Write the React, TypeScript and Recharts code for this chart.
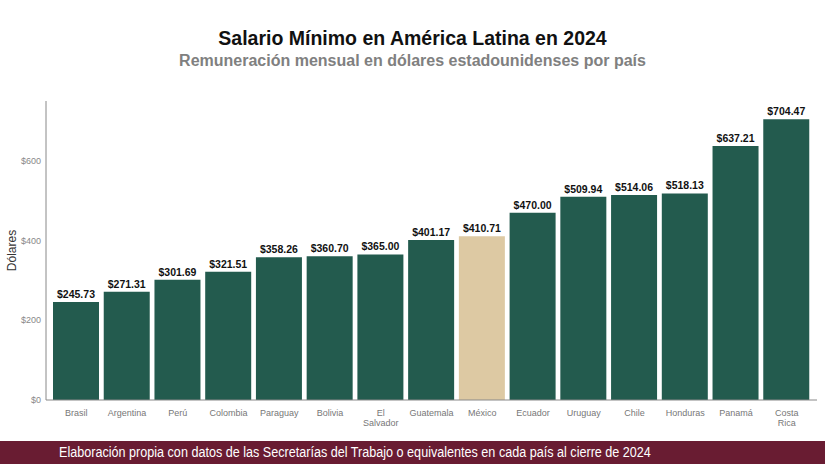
import React from 'react';
import { BarChart, Bar, XAxis, YAxis, Cell, LabelList } from 'recharts';

const countries = ['Brasil', 'Argentina', 'Perú', 'Colombia', 'Paraguay', 'Bolivia', 'El Salvador', 'Guatemala', 'México', 'Ecuador', 'Uruguay', 'Chile', 'Honduras', 'Panamá', 'Costa Rica'];
const salaries = [245.73, 271.31, 301.69, 321.51, 358.26, 360.7, 365.0, 401.17, 410.71, 470.0, 509.94, 514.06, 518.13, 637.21, 704.47];
const yTicks = [0, 200, 400, 600];
const highlight = 'México';

const data = countries.map((c, i) => ({ country: c, value: salaries[i] }));

const GREEN = '#235b4e';
const GOLD = '#ddc9a3';
const FONT = '"Liberation Sans", Arial, sans-serif';

const XTick = (props: any) => {
  const { x, y, payload } = props;
  const words = String(payload.value).split(' ');
  const lines = words.length > 1 ? words : [payload.value];
  return (
    <g transform={`translate(${x},${y})`}>
      <text textAnchor="middle" fill="#777" fontSize={9} fontFamily={FONT}>
        {lines.map((l: string, i: number) => (
          <tspan key={i} x={0} dy={i === 0 ? 8 : 10}>{l}</tspan>
        ))}
      </text>
    </g>
  );
};

export default function App() {
  return (
    <div style={{ position: 'absolute', left: 0, top: 0, width: 825, height: 464, background: '#fff', overflow: 'hidden', fontFamily: FONT }}>
      <div style={{ position: 'absolute', left: 0, width: 825, top: 27, textAlign: 'center', fontSize: 19.5, fontWeight: 'bold', color: '#111' }}>
        Salario Mínimo en América Latina en 2024
      </div>
      <div style={{ position: 'absolute', left: 0, width: 825, top: 52, textAlign: 'center', fontSize: 16, fontWeight: 'bold', color: '#808080' }}>
        Remuneración mensual en dólares estadounidenses por país
      </div>
      <div style={{ position: 'absolute', left: 0, top: 0 }}>
        <BarChart width={825} height={464} data={data} margin={{ top: 101, right: 8, bottom: 24, left: 0 }}>
          <XAxis
            dataKey="country"
            interval={0}
            tickLine={false}
            axisLine={{ stroke: '#888', strokeWidth: 1 }}
            tick={<XTick />}
            height={40}
            padding={{ left: 5, right: 5 }}
          />
          <YAxis
            domain={[0, 750]}
            ticks={yTicks}
            width={46}
            tickLine={false}
            tickSize={0}
            tickMargin={5}
            axisLine={{ stroke: '#888', strokeWidth: 1 }}
            tick={{ fill: '#888', fontSize: 9, fontFamily: FONT }}
            tickFormatter={(v: number) => `$${v}`}
            label={{ value: 'Dólares', angle: -90, position: 'insideLeft', offset: 12, style: { fill: '#333', fontSize: 12, fontFamily: FONT, textAnchor: 'middle' } }}
          />
          <Bar dataKey="value" barSize={46} isAnimationActive={false}>
            {data.map((d) => (
              <Cell key={d.country} fill={d.country === highlight ? GOLD : GREEN} />
            ))}
            <LabelList
              dataKey="value"
              position="top"
              offset={4}
              formatter={(v: any) => `$${Number(v).toFixed(2)}`}
              style={{ fill: '#111', fontSize: 10.5, fontWeight: 'bold', fontFamily: FONT }}
            />
          </Bar>
        </BarChart>
      </div>
      <div style={{ position: 'absolute', left: 0, top: 441, width: 825, height: 23, background: '#691c32' }}>
        <div style={{ position: 'absolute', left: 59, top: 3, fontSize: 14, color: '#fff', whiteSpace: 'nowrap', transform: 'scaleX(0.9)', transformOrigin: 'left center' }}>
          Elaboración propia con datos de las Secretarías del Trabajo o equivalentes en cada país al cierre de 2024
        </div>
      </div>
    </div>
  );
}
